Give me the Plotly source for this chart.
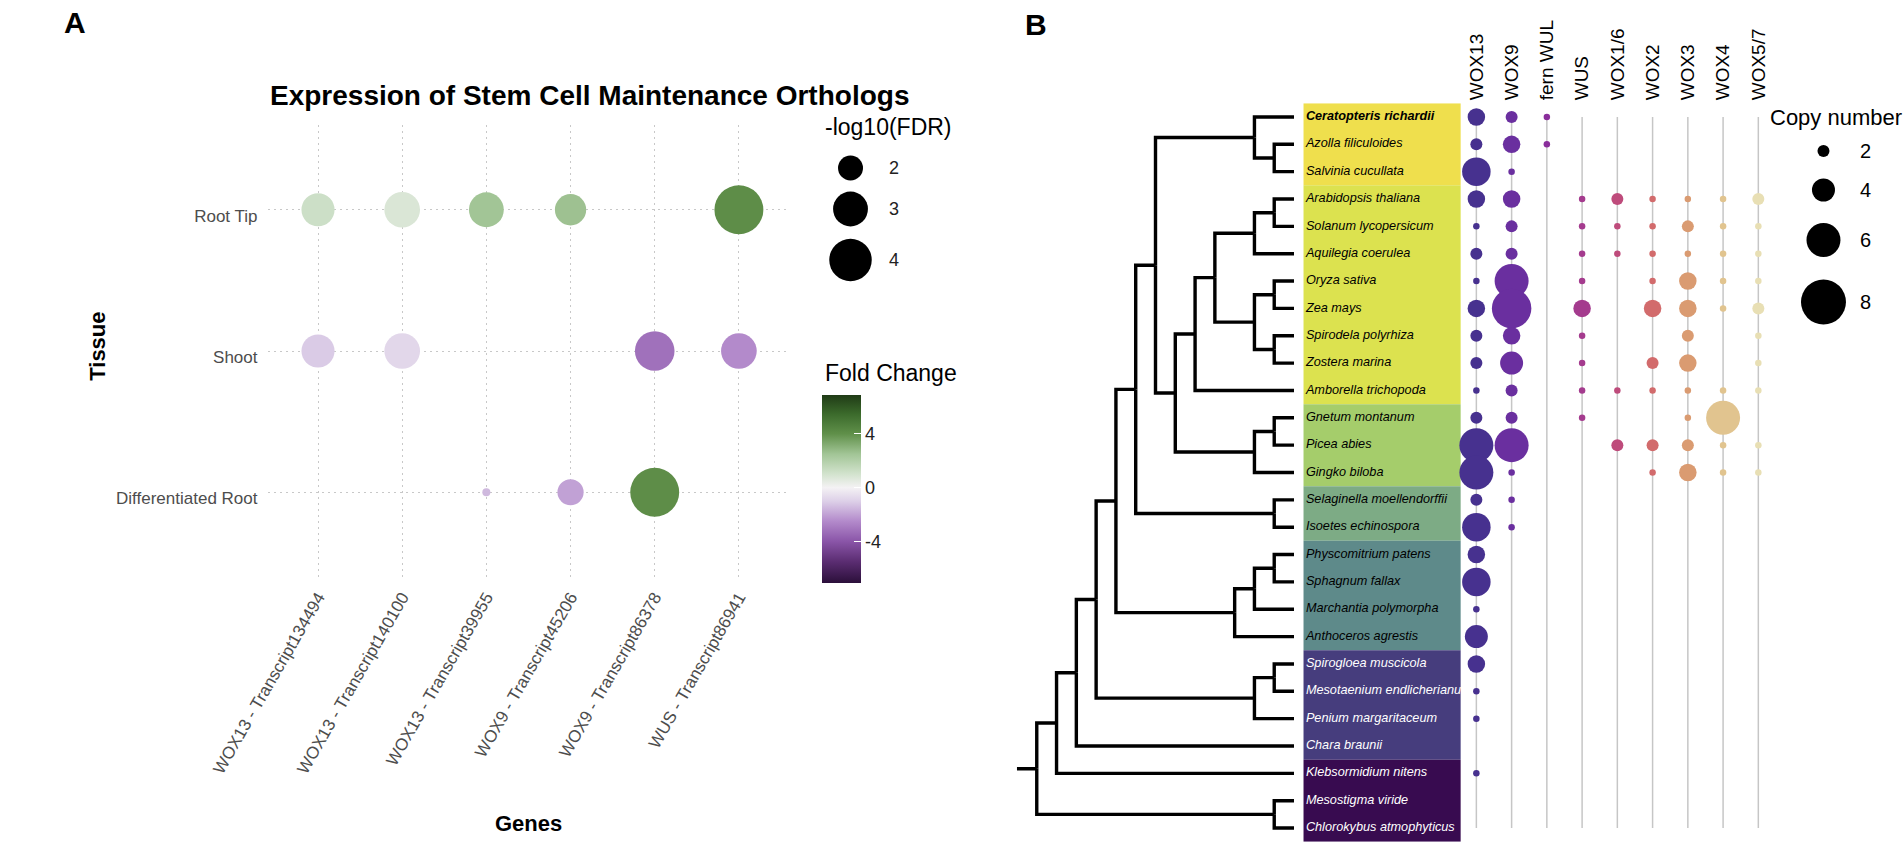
import math
import plotly.graph_objects as go

W, H = 1904, 846
FONT = "Liberation Sans, Arial, Helvetica, sans-serif"

# ---------------- Panel A data ----------------
genes = ["WOX13 - Transcript134494", "WOX13 - Transcript140100", "WOX13 - Transcript39955",
         "WOX9 - Transcript45206", "WOX9 - Transcript86378", "WUS - Transcript86941"]
tissues = ["Differentiated Root", "Shoot", "Root Tip"]  # bottom -> top
a_tissue = ["Root Tip"] * 5 + ["Shoot"] * 4 + ["Differentiated Root"] * 3
a_gene = [genes[0], genes[1], genes[2], genes[3], genes[5],
          genes[0], genes[1], genes[4], genes[5],
          genes[2], genes[3], genes[4]]
a_fold_change = [1.2, 0.8, 2.5, 2.6, 4.1,
                 -1.1, -0.8, -3.2, -2.5,
                 -1.5, -2.0, 4.1]
a_neglog10_fdr = [2.8, 3.1, 3.0, 2.6, 5.0,
                  2.8, 3.1, 3.6, 3.1,
                  1.05, 2.1, 5.0]
fdr_legend_values = [2, 3, 4]
fc_ticks = [-4, 0, 4]
fc_limits = [-7.1, 6.9]
fc_stop_values = [-7.1, -5.5, -4, -2.5, -1, 0, 1, 2.5, 4, 5.5, 6.9]
fc_stop_colors = ["#2b0f3a", "#5b2d72", "#8a55a8", "#b38acb", "#ddd0e8", "#f4f2f4",
                  "#d3e3ce", "#a2c596", "#60904a", "#3b6a2b", "#1f3b16"]

# ---------------- Panel B data ----------------
species = ["Ceratopteris richardii", "Azolla filiculoides", "Salvinia cucullata",
           "Arabidopsis thaliana", "Solanum lycopersicum", "Aquilegia coerulea",
           "Oryza sativa", "Zea mays", "Spirodela polyrhiza", "Zostera marina",
           "Amborella trichopoda", "Gnetum montanum", "Picea abies", "Gingko biloba",
           "Selaginella moellendorffii", "Isoetes echinospora", "Physcomitrium patens",
           "Sphagnum fallax", "Marchantia polymorpha", "Anthoceros agrestis",
           "Spirogloea muscicola", "Mesotaenium endlicherianum", "Penium margaritaceum",
           "Chara braunii", "Klebsormidium nitens", "Mesostigma viride",
           "Chlorokybus atmophyticus"]
highlight_species = "Ceratopteris richardii"

group_sizes = [3, 8, 3, 2, 4, 4, 3]
group_colors = ["#efdf4d", "#dce24f", "#a5cd6b", "#7dab85", "#5e8a8a", "#463d7d", "#380b50"]
group_text_colors = ["black", "black", "black", "black", "black", "white", "white"]

wox_genes = ["WOX13", "WOX9", "fern WUL", "WUS", "WOX1/6", "WOX2", "WOX3", "WOX4", "WOX5/7"]
wox_colors = ["#47318f", "#6a2f9f", "#8a2e9b", "#a43b8e", "#be4b7b", "#d26b6c",
              "#da9b71", "#e1c48f", "#e8dfb4"]
cn_WOX13 = [3, 2, 5, 3, 1, 2, 1, 3, 2, 2, 1, 2, 6, 6, 2, 5, 3, 5, 1, 4, 3, 1, 1, 0, 1, 0, 0]
cn_WOX9 = [2, 3, 1, 3, 2, 2, 6, 7, 3, 4, 2, 2, 6, 1, 1, 1, 0, 0, 0, 0, 0, 0, 0, 0, 0, 0, 0]
cn_fernWUL = [1, 1, 0, 0, 0, 0, 0, 0, 0, 0, 0, 0, 0, 0, 0, 0, 0, 0, 0, 0, 0, 0, 0, 0, 0, 0, 0]
cn_WUS = [0, 0, 0, 1, 1, 1, 1, 3, 1, 1, 1, 1, 0, 0, 0, 0, 0, 0, 0, 0, 0, 0, 0, 0, 0, 0, 0]
cn_WOX1_6 = [0, 0, 0, 2, 1, 1, 0, 0, 0, 0, 1, 0, 2, 0, 0, 0, 0, 0, 0, 0, 0, 0, 0, 0, 0, 0, 0]
cn_WOX2 = [0, 0, 0, 1, 1, 1, 1, 3, 0, 2, 1, 0, 2, 1, 0, 0, 0, 0, 0, 0, 0, 0, 0, 0, 0, 0, 0]
cn_WOX3 = [0, 0, 0, 1, 2, 1, 3, 3, 2, 3, 1, 1, 2, 3, 0, 0, 0, 0, 0, 0, 0, 0, 0, 0, 0, 0, 0]
cn_WOX4 = [0, 0, 0, 1, 1, 1, 1, 1, 0, 0, 1, 6, 1, 1, 0, 0, 0, 0, 0, 0, 0, 0, 0, 0, 0, 0, 0]
cn_WOX5_7 = [0, 0, 0, 2, 1, 1, 1, 2, 1, 1, 1, 0, 1, 1, 0, 0, 0, 0, 0, 0, 0, 0, 0, 0, 0, 0, 0]
copy_numbers = [cn_WOX13, cn_WOX9, cn_fernWUL, cn_WUS, cn_WOX1_6, cn_WOX2, cn_WOX3, cn_WOX4, cn_WOX5_7]
cn_legend_values = [2, 4, 6, 8]

# cladogram: node -> (depth level, children); tips sit at tip_level
tip_level = 13
root_edge_level = -1
tree_nodes = {
    "root": (0, ["n1", "n_mc"]),
    "n1": (1, ["n2", "Klebsormidium nitens"]),
    "n2": (2, ["n3", "Chara braunii"]),
    "n3": (3, ["n_land", "n_zyg"]),
    "n_land": (4, ["n_trach", "n_bryo"]),
    "n_trach": (5, ["n_euphyll", "n_lyco"]),
    "n_euphyll": (6, ["n_fern", "n_seed"]),
    "n_fern": (11, ["Ceratopteris richardii", "n_azsa"]),
    "n_azsa": (12, ["Azolla filiculoides", "Salvinia cucullata"]),
    "n_seed": (7, ["n_angio", "n_gymno"]),
    "n_angio": (8, ["n_mesang", "Amborella trichopoda"]),
    "n_mesang": (9, ["n_eudicot", "n_monocot"]),
    "n_eudicot": (11, ["n_atsl", "Aquilegia coerulea"]),
    "n_atsl": (12, ["Arabidopsis thaliana", "Solanum lycopersicum"]),
    "n_monocot": (11, ["n_oz", "n_sz"]),
    "n_oz": (12, ["Oryza sativa", "Zea mays"]),
    "n_sz": (12, ["Spirodela polyrhiza", "Zostera marina"]),
    "n_gymno": (11, ["n_gp", "Gingko biloba"]),
    "n_gp": (12, ["Gnetum montanum", "Picea abies"]),
    "n_lyco": (12, ["Selaginella moellendorffii", "Isoetes echinospora"]),
    "n_bryo": (10, ["n_setaph", "Anthoceros agrestis"]),
    "n_setaph": (11, ["n_moss", "Marchantia polymorpha"]),
    "n_moss": (12, ["Physcomitrium patens", "Sphagnum fallax"]),
    "n_zyg": (11, ["n_sm", "Penium margaritaceum"]),
    "n_sm": (12, ["Spirogloea muscicola", "Mesotaenium endlicherianum"]),
    "n_mc": (12, ["Mesostigma viride", "Chlorokybus atmophyticus"]),
}


# ---------------- helpers (styling) ----------------
def fdr_size(v):
    return math.sqrt(max(590.0 * v - 555.0, 16.0))


def cn_size(v):
    return 5.5 * v + 1.0


def px_x(p):
    return p / W


def px_y(p):
    return 1 - p / H


fc_colorscale = [[(v - fc_limits[0]) / (fc_limits[1] - fc_limits[0]), c]
                 for v, c in zip(fc_stop_values, fc_stop_colors)]

fig = go.Figure()

# ---------------- Panel A ----------------
fig.add_trace(go.Scatter(
    x=a_gene, y=a_tissue, mode="markers", xaxis="x", yaxis="y",
    marker=dict(size=[fdr_size(v) for v in a_neglog10_fdr], color=a_fold_change,
                colorscale=fc_colorscale, cmin=fc_limits[0], cmax=fc_limits[1],
                line=dict(width=0), opacity=1,
                showscale=True,
                colorbar=dict(x=px_x(789), xanchor="left", y=px_y(395), yanchor="top",
                              len=188 / H, lenmode="fraction", thickness=39,
                              thicknessmode="pixels", outlinewidth=0,
                              tickvals=fc_ticks, ticktext=[str(t) for t in fc_ticks],
                              ticks="inside", ticklen=7, tickcolor="white", tickwidth=1,
                              tickfont=dict(size=18, color="#222222", family=FONT),
                              xpad=0, ypad=0)),
    hoverinfo="skip", showlegend=False))

# size legend (panel A)
fig.add_trace(go.Scatter(
    x=[818] * 3, y=[168, 209, 260], mode="markers", xaxis="x4", yaxis="y4",
    marker=dict(size=[fdr_size(v) for v in fdr_legend_values], color="black",
                opacity=1, line=dict(width=0)),
    hoverinfo="skip", showlegend=False))

# ---------------- Panel B ----------------
tip_index = {s: i for i, s in enumerate(species)}


def node_y(name):
    if name in tree_nodes:
        ch = tree_nodes[name][1]
        return sum(node_y(c) for c in ch) / len(ch)
    return tip_index[name]


def node_level(name):
    return tree_nodes[name][0] if name in tree_nodes else tip_level


tx, ty = [root_edge_level, tree_nodes["root"][0], None], [node_y("root"), node_y("root"), None]
for name, (lvl, children) in tree_nodes.items():
    ny = node_y(name)
    for c in children:
        cy = node_y(c)
        tx += [lvl, lvl, node_level(c), None]
        ty += [ny, cy, cy, None]

fig.add_trace(go.Scatter(x=tx, y=ty, mode="lines", xaxis="x2", yaxis="y2",
                         line=dict(color="black", width=3.4), hoverinfo="skip", showlegend=False))

# group boxes
shapes = []
start = 0
row_text_colors = []
for size, col, tcol in zip(group_sizes, group_colors, group_text_colors):
    shapes.append(dict(type="rect", xref="x2", yref="y2", x0=13.48, x1=21.42,
                       y0=start - 0.5, y1=start + size - 0.5, fillcolor=col,
                       line=dict(width=0), layer="below"))
    row_text_colors += [tcol] * size
    start += size

labels = [("<b><i>%s</i></b>" % s) if s == highlight_species else ("<i>%s</i>" % s) for s in species]
fig.add_trace(go.Scatter(x=[13.6] * len(species), y=list(range(len(species))), mode="text",
                         text=labels, textposition="middle right", xaxis="x2", yaxis="y2",
                         textfont=dict(size=12.7, color=row_text_colors, family=FONT),
                         hoverinfo="skip", showlegend=False))

# column guide lines
gx, gy = [], []
for k in range(len(wox_genes)):
    gx += [k, k, None]
    gy += [0, len(species) - 1, None]
fig.add_trace(go.Scatter(x=gx, y=gy, mode="lines", xaxis="x3", yaxis="y2",
                         line=dict(color="#c6c6c6", width=1.5), hoverinfo="skip", showlegend=False))

for k, (gname, col, counts) in enumerate(zip(wox_genes, wox_colors, copy_numbers)):
    xs = [k for c in counts if c > 0]
    ys = [i for i, c in enumerate(counts) if c > 0]
    ss = [cn_size(c) for c in counts if c > 0]
    fig.add_trace(go.Scatter(x=xs, y=ys, mode="markers", xaxis="x3", yaxis="y2",
                             marker=dict(size=ss, color=col, opacity=1, line=dict(width=0)),
                             hoverinfo="skip", showlegend=False))

# size legend (panel B)
fig.add_trace(go.Scatter(
    x=[1821] * 4, y=[151, 190, 240, 302], mode="markers", xaxis="x4", yaxis="y4",
    marker=dict(size=[cn_size(v) for v in cn_legend_values], color="black",
                opacity=1, line=dict(width=0)),
    hoverinfo="skip", showlegend=False))

# ---------------- annotations ----------------
ann = []


def add_text(text, x, y, size, xanchor="left", bold=False, color="black", angle=0):
    ann.append(dict(text=("<b>%s</b>" % text) if bold else text, x=px_x(x), y=px_y(y),
                    xref="paper", yref="paper", xanchor=xanchor, yanchor="middle",
                    showarrow=False, textangle=angle,
                    font=dict(size=size, color=color, family=FONT)))


add_text("A", 5, 22, 30, bold=True)
add_text("B", 996, 24, 30, bold=True)
add_text("Expression of Stem Cell Maintenance Orthologs", 217, 95, 28, bold=True)
add_text("Tissue", 41, 346, 22, xanchor="center", bold=True, angle=-90)
add_text("Genes", 486, 823, 22, xanchor="center", bold=True)
add_text("-log10(FDR)", 790, 127, 23)
for v, yy in zip(fdr_legend_values, [168, 209, 260]):
    add_text(str(v), 856, yy, 18, color="#222222")
add_text("Fold Change", 790, 373, 23)
add_text("Copy number", 1764, 118, 22)
for v, yy in zip(cn_legend_values, [151, 190, 240, 302]):
    add_text(str(v), 1857, yy, 20)

TRANSPARENT = "rgba(0,0,0,0)"
fig.update_layout(
    width=W, height=H, margin=dict(l=0, r=0, t=0, b=0),
    paper_bgcolor="white", plot_bgcolor=TRANSPARENT, showlegend=False,
    font=dict(family=FONT, color="black"),
    shapes=shapes, annotations=ann,
    xaxis=dict(domain=[px_x(217), px_x(755)], range=[-0.6, 5.6], type="category",
               categoryorder="array", categoryarray=genes, anchor="y",
               showgrid=True, gridcolor="#c8c8c8", griddash="2px,4px", gridwidth=1,
               zeroline=False, showline=False, ticks="", tickangle=-60,
               ticklabelstandoff=6,
               tickfont=dict(size=17, color="#4d4d4d", family=FONT), fixedrange=True),
    yaxis=dict(domain=[px_y(577), px_y(125)], range=[-0.6, 2.6], type="category",
               categoryorder="array", categoryarray=tissues, anchor="x",
               showgrid=True, gridcolor="#c8c8c8", griddash="2px,4px", gridwidth=1,
               zeroline=False, showline=False, ticks="", ticklabelstandoff=9,
               ticklabelshift=6,
               tickfont=dict(size=17, color="#4d4d4d", family=FONT), fixedrange=True),
    xaxis2=dict(domain=[px_x(970), px_x(1450)], range=[(970 - 1010) / 20.4, (1450 - 1010) / 20.4],
                anchor="y2", visible=False, fixedrange=True),
    yaxis2=dict(domain=[px_y(841.7), px_y(103.3)], range=[26.5, -0.5], anchor="x2",
                visible=False, fixedrange=True),
    xaxis3=dict(domain=[px_x(1445), px_x(1772)], range=[-0.5, 8.5], anchor="y2", side="top",
                tickmode="array", tickvals=list(range(len(wox_genes))), ticktext=wox_genes,
                tickangle=-90, showgrid=False, zeroline=False, showline=False, ticks="",
                ticklabelstandoff=2,
                tickfont=dict(size=19, color="black", family=FONT), fixedrange=True),
    xaxis4=dict(domain=[0, 1], range=[0, W], anchor="y4", visible=False, fixedrange=True),
    yaxis4=dict(domain=[0, 1], range=[H, 0], anchor="x4", visible=False, fixedrange=True),
)

fig.write_html("out.html", config={"displayModeBar": False},
               post_script="document.body.style.margin='0';document.body.style.overflow='hidden';")
